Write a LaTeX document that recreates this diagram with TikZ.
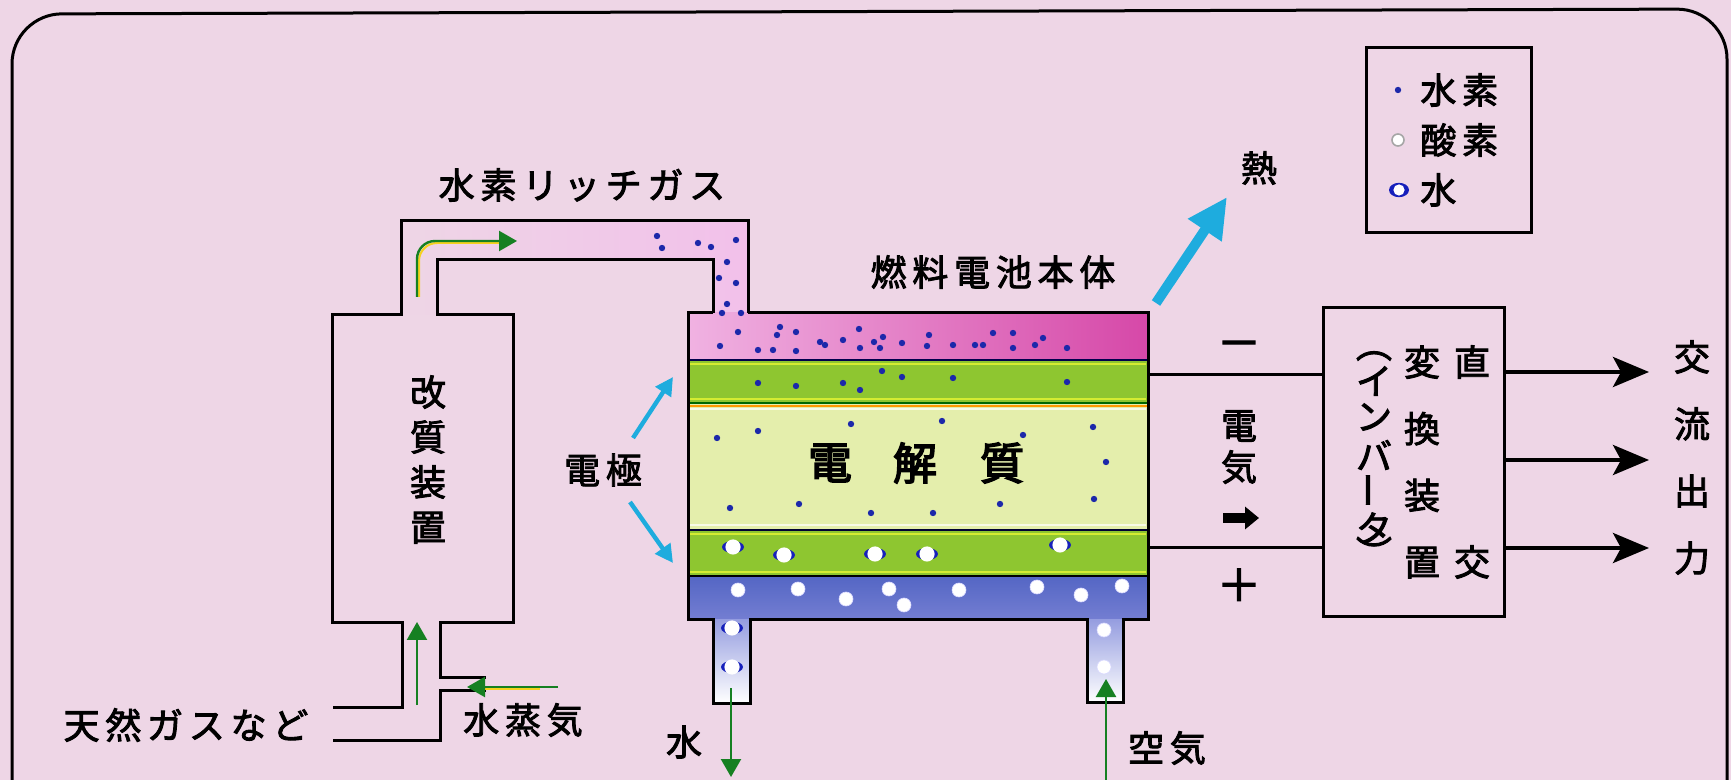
\documentclass[tikz,border=0pt]{standalone}
\usepackage{fontspec}
\usetikzlibrary{arrows.meta}
\newfontfamily\jpsp[LetterSpace=16,FakeBold=2.5]{Noto Sans CJK JP}
\newfontfamily\jpvt[FakeBold=2.5]{Noto Sans CJK JP}
\newfontfamily\jpbig[FakeBold=3.5]{Noto Sans CJK JP}
\definecolor{bgc}{RGB}{238,214,230}
\definecolor{gaspinkL}{RGB}{240,178,226}
\definecolor{gaspinkR}{RGB}{214,72,168}
\definecolor{pipepink}{RGB}{242,192,234}
\definecolor{elgreen}{RGB}{142,198,48}
\definecolor{elhi}{RGB}{212,236,50}
\definecolor{elyte}{RGB}{228,238,172}
\definecolor{airblueT}{RGB}{84,102,196}
\definecolor{airblueB}{RGB}{116,126,210}
\definecolor{pipeblue}{RGB}{150,158,224}
\definecolor{hdot}{RGB}{28,40,170}
\definecolor{cyanarrow}{RGB}{30,172,222}
\definecolor{flowgreen}{RGB}{22,128,34}
\definecolor{flowyellow}{RGB}{245,210,30}
\begin{document}
\begin{tikzpicture}[x=0.5pt,y=-0.5pt,
  wall/.style={line width=1.5pt,line join=miter},
  txt/.style={inner sep=0pt,font=\fontsize{18}{18}\selectfont\jpsp},
  ctxt/.style={inner sep=0pt,font=\fontsize{18}{18}\selectfont\jpvt},
  bigtxt/.style={inner sep=0pt,font=\fontsize{22}{22}\selectfont\jpbig},
  vtxt/.style={inner sep=0pt,align=center,font=\fontsize{18}{#1}\selectfont\jpvt},
  flow/.style={draw=flowgreen,line width=1.2pt,-{Triangle[length=9pt,width=10pt]}},
  glow/.style={draw=flowyellow,line width=1pt},
  pointer/.style={draw=cyanarrow,line width=2.2pt,-{Triangle[length=9pt,width=9pt]}},
  output/.style={line width=2pt,-{Stealth[length=18pt,width=15pt,inset=4pt]}},
  hyd/.style={fill=hdot},
  oxy/.style={fill=white,draw=white!85!blue,line width=0.3pt},
  box/.style={draw,line width=1.5pt,inner sep=0pt,fill=none}
]
\useasboundingbox (0,0) rectangle (1731,780);
\fill[bgc] (0,0) rectangle (1731,780);

% outer frame
\begin{scope}
  \clip (0,0) rectangle (1731,780);
  \draw[line width=1.5pt,rounded corners=25pt] (12,900) -- (12,14) -- (1727,9) -- (1727,900);
\end{scope}

% ---------- fills ----------
% hydrogen-rich gas pipe
\shade[left color=bgc,right color=pipepink]
  (401,315) -- (401,221) -- (748,221) -- (748,313) -- (713,313) -- (713,260) -- (437,260) -- (437,315) -- cycle;
% cell layers
\shade[left color=gaspinkL,right color=gaspinkR] (688,313) rectangle (1148,360);
\fill[elgreen] (688,360) rectangle (1148,403);
\fill[elyte] (688,403) rectangle (1148,530);
\fill[elgreen] (688,530) rectangle (1148,576);
\shade[top color=airblueT,bottom color=airblueB] (688,576) rectangle (1148,620);
% outlet / inlet pipes below the cell
\shade[top color=pipeblue,bottom color=white] (713,620) rectangle (750,703);
\shade[top color=pipeblue,bottom color=white] (1087,620) rectangle (1123,702);

% layer highlights and separators
\draw[elhi,line width=0.8pt] (690,364) -- (1146,364) (690,399) -- (1146,399)
  (690,534) -- (1146,534) (690,572) -- (1146,572);
\draw[white!70!elyte,line width=0.8pt] (690,409) -- (1146,409) (690,525) -- (1146,525);
\draw[line width=1pt,black!70!blue] (688,360) -- (1148,360);
\draw[line width=1.2pt,black!60!green] (688,403) -- (1148,403);
\draw[line width=0.6pt,orange!80!yellow] (688,406) -- (1148,406);
\draw[line width=1.2pt,black!80!blue] (688,530) -- (1148,530);
\draw[line width=1.2pt] (688,576) -- (1148,576);

% ---------- particles ----------
% hydrogen
\foreach \p in {(657,236),(662,248),(698,243),(711,247),(736,240),(727,262),(719,278),(736,283),(727,304),(722,313),(741,313),
  (720,346),(738,332),(758,350),(773,350),(777,335),(780,327),(796,332),(796,351),(820,342),(825,345),(843,340),(859,329),(860,348),(874,342),(880,348),(883,337),(902,343),(927,346),(929,335),(953,345),(975,345),(983,345),(993,333),(1013,333),(1013,348),(1035,345),(1043,338),(1067,348),
  (758,383),(796,386),(843,383),(860,390),(882,371),(902,377),(953,378),(1067,382),
  (717,438),(758,431),(851,424),(942,421),(1023,435),(1093,427),(1106,462),(1094,499),(1000,504),(933,513),(871,513),(799,504),(730,508)}
  \fill[hyd] \p circle[radius=1.6pt];
% water
\foreach \p in {(733,547),(784,555),(875,554),(927,554),(1060,545),(732,628),(732,667)}{
  \fill[hdot!80!blue] \p ellipse[x radius=5.5pt,y radius=3pt];
  \fill[white] \p circle[radius=3.8pt];
}
% oxygen
\foreach \p in {(738,590),(798,589),(846,599),(889,589),(904,605),(959,590),(1037,587),(1081,595),(1122,586),(1104,630),(1104,667)}
  \filldraw[oxy] \p circle[radius=3.5pt];

% ---------- walls ----------
% reformer with its pipes
\draw[wall] (333,707) -- (402,707) -- (402,623) -- (332,623) -- (332,315) -- (401,315)
  -- (401,221) -- (748,221) -- (748,313);
\draw[wall] (713,313) -- (713,260) -- (437,260) -- (437,315) -- (513,315) -- (513,623)
  -- (440,623) -- (440,678) -- (486,678);
\draw[wall] (486,690) -- (440,690) -- (440,740) -- (333,740);
% fuel cell body
\draw[wall] (713,313) -- (688,313) -- (688,620) -- (713,620) -- (713,703) -- (750,703) -- (750,620)
  -- (1087,620) -- (1087,702) -- (1123,702) -- (1123,620) -- (1148,620) -- (1148,313) -- (748,313);

% ---------- flows ----------
\draw[glow,rounded corners=9pt] (419,297) -- (419,243) -- (508,243);
\draw[flow,rounded corners=9pt] (417,297) -- (417,241) -- (517,241);
\draw[flow] (417,705) -- (417,622);
\draw[glow] (540,689) -- (485,689);
\draw[flow] (558,687) -- (467,687);
\draw[flow] (731,688) -- (731,777);
\draw[flow] (1106,790) -- (1106,679);

% electrode pointers and heat
\coordinate (eltip1) at (673,377);
\coordinate (eltip2) at (673,563);
\node[txt] (electrode) at (603,470) {電極};
\draw[pointer] (633,438) -- (eltip1);
\draw[pointer] (630,502) -- (eltip2);
\coordinate (heatfoot) at (1156,303);
\coordinate (heattip) at (1227,197);
\draw[draw=cyanarrow,line width=5pt,-{Triangle[length=20pt,width=19pt]}] (heatfoot) -- (heattip);

% ---------- inverter ----------
\node[box,minimum width=90.5pt,minimum height=154.5pt] (inv) at (1413.5,462.5) {};
\coordinate (wm) at (1148,375);
\coordinate (wp) at (1148,548);
\draw[wall] (wm) -- (wm -| inv.west);
\draw[wall] (wp) -- (wp -| inv.west);
\coordinate (o1) at (1649,372);
\coordinate (o2) at (1649,460);
\coordinate (o3) at (1649,548);
\draw[output] (o1 -| inv.east) -- (o1);
\draw[output] (o2 -| inv.east) -- (o2);
\draw[output] (o3 -| inv.east) -- (o3);

% ---------- legend ----------
\node[box,minimum width=82.5pt,minimum height=92.5pt] (legend) at (1448.5,140.5) {};
\fill[hdot] (1398,90) circle[radius=1.6pt];
\filldraw[fill=white,draw=black!35,line width=0.8pt] (1398,140) circle[radius=3pt];
\fill[hdot!80!blue] (1399,190) ellipse[x radius=5pt,y radius=3.6pt];
\fill[white] (1399,190) circle[radius=2.8pt];
\node[txt,anchor=west] at (1420,90) {水素};
\node[txt,anchor=west] at (1420,140) {酸素};
\node[txt,anchor=west] at (1420,190) {水};

% ---------- labels ----------
\node[txt] (richgas) at (582,185) {水素リッチガス};
\node[txt] (cellname) at (993,272) {燃料電池本体};
\node[ctxt] (heat) at (1259,168) {熱};
\node[txt] (natgas) at (186,725) {天然ガスなど};
\node[txt] (steam) at (523,720) {水蒸気};
\node[ctxt] (water) at (684,742) {水};
\node[txt] (air) at (1167,748) {空気};
\node[vtxt=22.5pt] (reformer) at (428,459.5) {改\\質\\装\\置};
\node[bigtxt] at (830,463) {電};
\node[bigtxt] at (915,463) {解};
\node[bigtxt] at (1002,463) {質};
% electricity between the poles
\node[inner sep=0pt,font=\fontsize{22}{22}\selectfont\jpvt] at (1239,350) {－};
\node[inner sep=0pt,font=\fontsize{22}{22}\selectfont\jpvt] at (1239,585) {＋};
\node[ctxt] (elec1) at (1239,426) {電};
\node[ctxt] (elec2) at (1239,467) {気};
\coordinate (currtail) at (1223,518);
\coordinate (currtip) at (1259,518);
\draw[line width=5pt,-{Triangle[length=7pt,width=11pt]}] (currtail) -- (currtip);
% inverter text
\node[ctxt] at (1374,356) {︵};
\node[ctxt] at (1374,381) {イ};
\node[ctxt] at (1374,417) {ン};
\node[ctxt] at (1374,455) {バ};
\node[ctxt,rotate=90] at (1374,490) {ー};
\node[ctxt] at (1374,528) {タ};
\node[ctxt] at (1374,552) {︶};
\node[vtxt=33.3pt] at (1422,462) {変\\換\\装\\置};
\node[ctxt] at (1472,362) {直};
\node[ctxt] at (1472,562) {交};
\node[vtxt=33.5pt] (acout) at (1692,457.5) {交\\流\\出\\力};
\end{tikzpicture}
\end{document}
